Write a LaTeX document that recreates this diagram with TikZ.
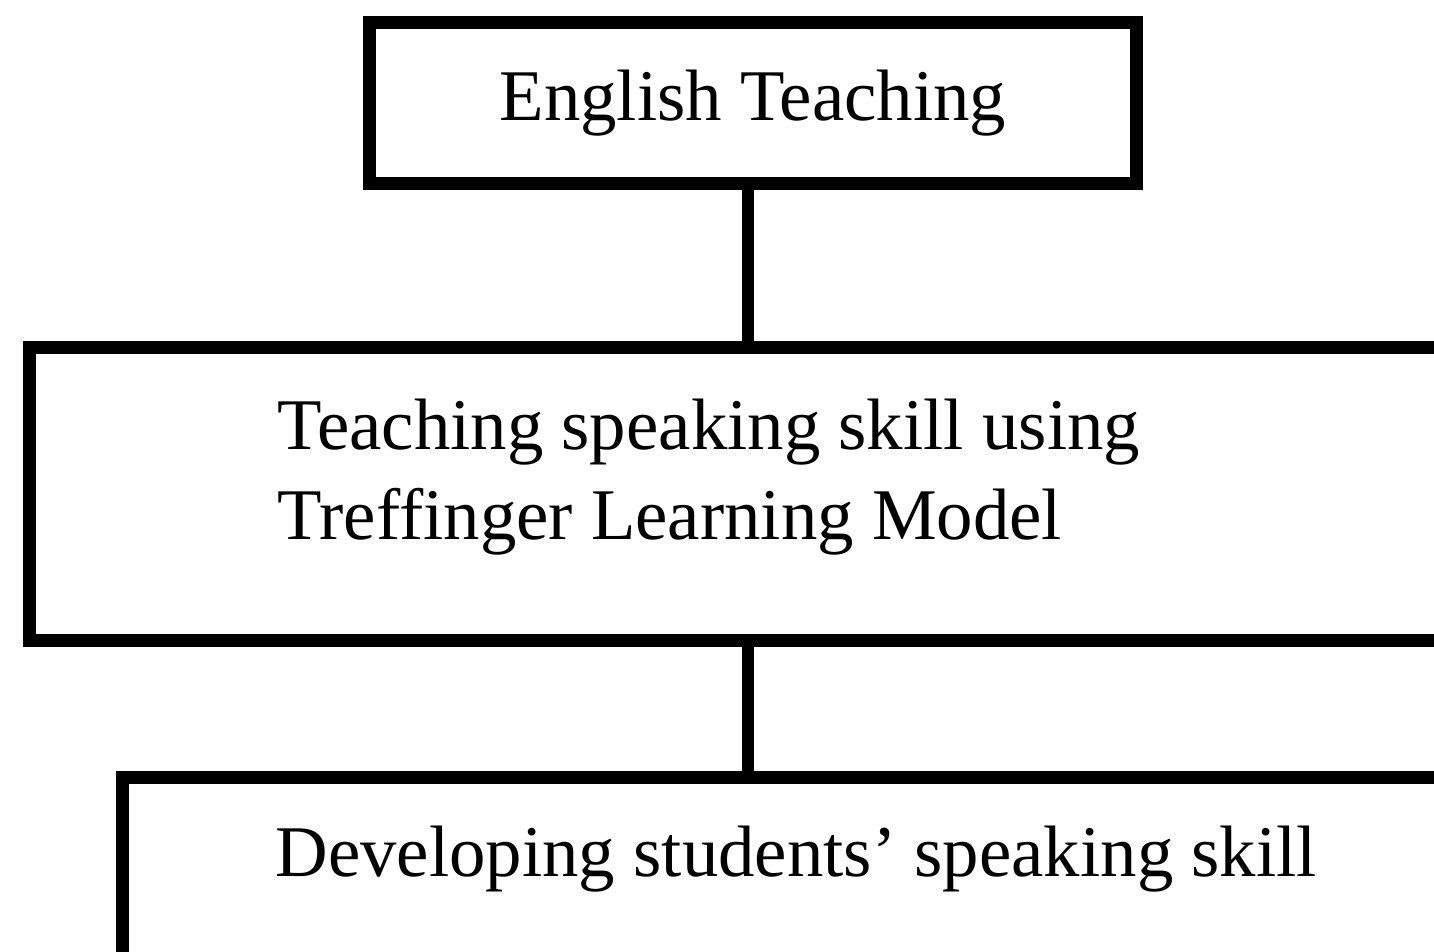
\documentclass[tikz,border=0pt]{standalone}
\usepackage{fontspec}
\setmainfont{Liberation Serif}
\usetikzlibrary{positioning}

\tikzset{
  box/.style={rectangle, draw, line width=3.7pt, inner sep=0pt},
  caption/.style={font=\fontsize{20.7}{24.8}\selectfont, inner sep=0pt, anchor=base west},
  link/.style={line width=3.4pt}
}

\begin{document}
\begin{tikzpicture}[x=0.01cm, y=-0.01cm]
            \useasboundingbox (0,0) rectangle (1434,951);
            \clip (0,0) rectangle (1434,951);
            % Boxes
            \node[box, minimum width=7.665cm, minimum height=1.6cm, font=\fontsize{20.7}{24.8}\selectfont] (english) at (752.75,103) {English Teaching};
            \node[box, anchor=north west, minimum width=15cm, minimum height=2.93cm] (method) at (23,341) {};
            \node[box, anchor=north west, minimum width=14cm, minimum height=3cm] (outcome) at (116,771) {};
            % Texts
            \node[caption] (methodA) at (277,449) {Teaching speaking skill using};
            \node[caption] (methodB) at (277,539) {Treffinger Learning Model};
            \node[caption] (outcomeA) at (275,876) {Developing students’ speaking skill};
            % Connections
            \coordinate (stem) at ([xshift=-0.0475cm]english.south);
            \draw[link] (stem) -- (stem |- method.north);
            \draw[link] (stem |- method.south) -- (stem |- outcome.north);
        \end{tikzpicture}
\end{document}
